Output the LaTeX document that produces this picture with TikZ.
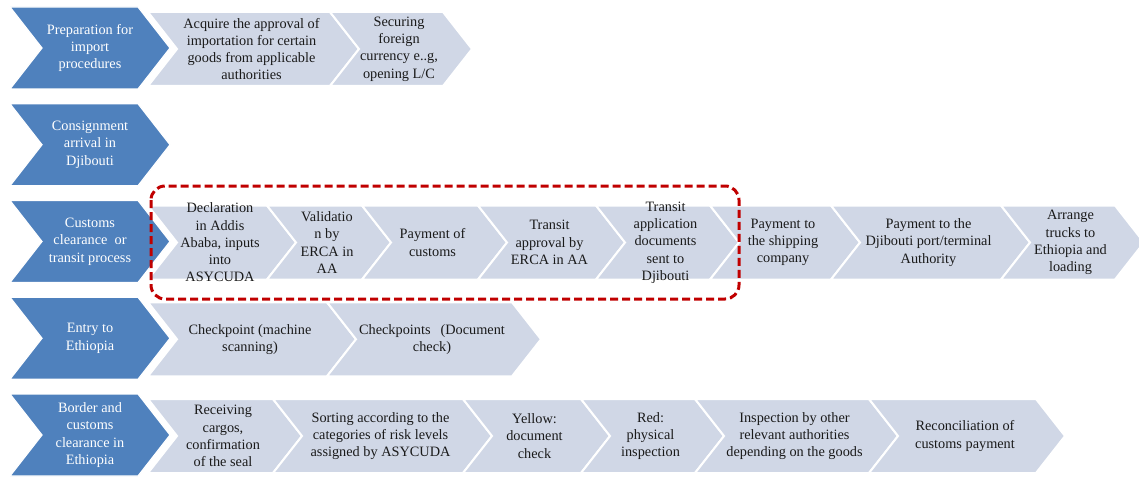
\documentclass[tikz,border=0pt]{standalone}
\usepackage{fontspec}
\setmainfont{Liberation Serif}
\definecolor{chevblue}{HTML}{4F81BD}
\definecolor{chevlight}{HTML}{D0D7E6}
\definecolor{boxred}{HTML}{C00000}
\definecolor{txtdark}{HTML}{1A1A1A}
\tikzset{
  chevL/.style={fill=chevlight, draw=white, line width=2pt, line join=miter},
  chevB/.style={fill=chevblue, draw=white, line width=1.2pt, line join=miter},
  txtL/.style={align=center, inner sep=0pt, text=txtdark, font=\fontsize{14.3}{17.3}\selectfont},
  txtB/.style={align=center, inner sep=0pt, text=white, font=\fontsize{14.3}{17.3}\selectfont},
  redbox/.style={draw=boxred, line width=3pt, dash pattern=on 8pt off 4pt, rounded corners=14pt}
}
% #1 left x, #2 top-right x, #3 top y, #4 name, #5 text
\newcommand\lchev[5]{%
  \path[chevL] (#1,#3) -- (#2,#3) -- ({#2+29},{#3+37}) -- (#2,{#3+74}) -- (#1,{#3+74}) -- ({#1+29},{#3+37}) -- cycle;
  \node[txtL] (#4) at ({(#1+#2+29)/2-2},{#3+37}) {#5};}
% #1 top y, #2 name, #3 text
\newcommand\bchev[3]{%
  \path[chevB] (10,#1) -- (138,#1) -- (170,{#1+41}) -- (138,{#1+82}) -- (10,{#1+82}) -- (42,{#1+41}) -- cycle;
  \node[txtB] (#2) at (90,{#1+41}) {#3};}
\begin{document}
\begin{tikzpicture}[x=1pt,y=-1pt]
\useasboundingbox (0,0) rectangle (1139,476);
% Row 1
\lchev{148}{330}{12}{a1}{Acquire the approval of\\importation for certain\\goods from applicable\\authorities}
\lchev{330}{443}{12}{a2}{Securing\\foreign\\currency e..g,\\opening L/C}
% Row 3
\lchev{148}{267}{205.5}{c1}{Declaration\\in Addis\\Ababa, inputs\\into\\ASYCUDA}
\lchev{267}{362}{205.5}{c2}{Validatio\\n by\\ERCA in\\AA}
\lchev{362}{478}{205.5}{c3}{Payment of\\customs}
\lchev{478}{596}{205.5}{c4}{Transit\\approval by\\ERCA in AA}
\lchev{596}{710}{205.5}{c5}{Transit\\application\\documents\\sent to\\Djibouti}
\lchev{710}{831}{205.5}{c6}{Payment to\\the shipping\\company}
\lchev{831}{1001}{205.5}{c7}{Payment to the\\Djibouti port/terminal\\Authority}
\lchev{1001}{1115}{205.5}{c8}{Arrange\\trucks to\\Ethiopia and\\loading}
% Row 4
\lchev{148}{327}{302.25}{d1}{Checkpoint (machine\\scanning)}
\lchev{327}{512}{302.25}{d2}{Checkpoints\hspace{0.7em}(Document\\check)}
% Row 5
\lchev{148}{273}{399}{e1}{Receiving\\cargos,\\confirmation\\of the seal}
\lchev{273}{463}{399}{e2}{Sorting according to the\\categories of risk levels\\assigned by ASYCUDA}
\lchev{463}{581}{399}{e3}{Yellow:\\document\\check}
\lchev{581}{695}{399}{e4}{Red:\\physical\\inspection}
\lchev{695}{869}{399}{e5}{Inspection by other\\relevant authorities\\depending on the goods}
\lchev{869}{1036}{399}{e6}{Reconciliation of\\customs payment}
% Blue chevrons
\bchev{7}{b1}{Preparation for\\import\\procedures}
\bchev{103.75}{b2}{Consignment\\arrival in\\Djibouti}
\bchev{200.5}{b3}{Customs\\clearance\ \ or\\transit process}
\bchev{297.25}{b4}{Entry to\\Ethiopia}
\bchev{394}{b5}{Border and\\customs\\clearance in\\Ethiopia}
% Red dashed box
\draw[redbox] (151,186) rectangle (739,299);
\end{tikzpicture}
\end{document}
